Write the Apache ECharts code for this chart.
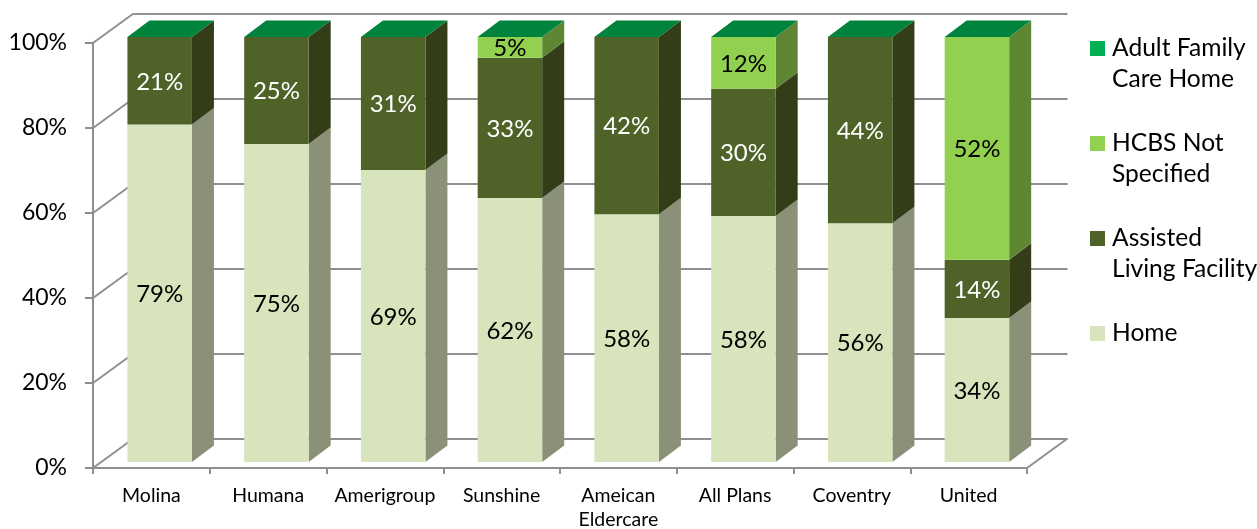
<!DOCTYPE html>
<html><head><meta charset="utf-8">
<style>html,body{margin:0;padding:0;background:#fff}#c{width:1257px;height:529px}</style>
<script src="https://cdn.jsdelivr.net/npm/echarts@6/dist/echarts.min.js"></script>
</head><body><div id="c"></div>
<script>
const categories = ['Molina','Humana','Amerigroup','Sunshine','Ameican\nEldercare','All Plans','Coventry','United'];
const home     = [79.4,74.8,68.7,62.1,58.3,57.9,56.2,33.9];
const assisted = [20.6,25.2,31.3,33.0,41.7,29.9,43.8,13.7];
const hcbs     = [0,0,0,4.9,0,12.2,0,52.4];
const family   = [0,0,0,0,0,0,0,0];
const yTicks   = [0,20,40,60,80,100];
const layerNames = ['Home','Assisted Living Facility','HCBS Not Specified','Adult Family Care Home'];
const legendLabels = {'Adult Family Care Home':'Adult Family\nCare Home','HCBS Not Specified':'HCBS Not\nSpecified','Assisted Living Facility':'Assisted\nLiving Facility','Home':'Home\n '};
const frontColors = ['#D7E4BC','#4F6228','#92D050','#00B050'];
const sideColors  = ['#8A9178','#333D18','#5E8633','#00843D'];
const labelColors = ['#000','#fff','#000','#000'];
const topColor = '#00843D';
const FONT = 'Lato, Carlito, Calibri, sans-serif';
const GRAY = '#8F8F8F';

const barW = 64.5, depthX = 22, depthY = 16.5, shiftX = 8.3, shiftY = 6;
const wallX = 40.5, wallY = 29.5;

const layers = [home, assisted, hcbs, family];
function rows(k){
  return categories.map((c,i)=>{
    let start = 0;
    for(let j=0;j<k;j++) start += layers[j][i];
    return [i,start,start+layers[k][i]];
  });
}
function renderBar(k){
  return function(params, api){
    const cat = api.value(0), a = api.value(1), b = api.value(2);
    const p0 = api.coord([cat,a]), p1 = api.coord([cat,b]);
    const x = p0[0] + shiftX - barW/2, y0 = p0[1]-shiftY, y1 = p1[1]-shiftY;
    const children = [];
    if(b>a){
      children.push({type:'polygon',shape:{points:[[x+barW,y0],[x+barW+depthX,y0-depthY],[x+barW+depthX,y1-depthY],[x+barW,y1]]},style:{fill:sideColors[k]}});
      children.push({type:'rect',shape:{x:x,y:y1,width:barW,height:y0-y1},style:{fill:frontColors[k]}});
      children.push({type:'text',x:x+barW/2,y:(y0+y1)/2+1,style:{text:Math.round(b-a)+'%',fill:labelColors[k],font:'24px '+FONT,align:'center',verticalAlign:'middle'},z2:10});
    }
    if(k===3){
      children.push({type:'polygon',shape:{points:[[x,y1],[x+depthX,y1-depthY],[x+barW+depthX,y1-depthY],[x+barW,y1]]},style:{fill:topColor}});
    }
    return {type:'group',children:children};
  };
}
const barSeries = layerNames.map((name,k)=>({
  type:'custom',name:name,xAxisIndex:0,yAxisIndex:0,
  itemStyle:{color:frontColors[k]},
  encode:{x:0,y:[1,2]},
  data:rows(k),
  renderItem:renderBar(k),
  z:3+k
}));
const wallSeries = {
  type:'custom',name:'walls',xAxisIndex:0,yAxisIndex:0,silent:true,
  encode:{y:0},
  data:yTicks.map(t=>[t]),
  renderItem:function(params,api){
    const cs = params.coordSys;
    const y = api.coord([0,api.value(0)])[1];
    const kids = [{type:'line',shape:{x1:cs.x,y1:y,x2:cs.x+wallX,y2:y-wallY},style:{stroke:GRAY,lineWidth:2}}];
    if(api.value(0)===0) kids.push({type:'line',shape:{x1:cs.x+cs.width,y1:y,x2:cs.x+cs.width+wallX,y2:y-wallY},style:{stroke:GRAY,lineWidth:2}});
    return {type:'group',children:kids};
  },
  z:1
};
const chart = echarts.init(document.getElementById('c'),null,{renderer:'canvas'});
chart.setOption({
  animation:false,
  backgroundColor:'#fff',
  textStyle:{fontFamily:FONT},
  grid:[
    {left:93,right:230,top:43,bottom:61,outerBoundsMode:'none'},
    {left:133.5,right:189.5,top:13.5,bottom:90.5,outerBoundsMode:'none'}
  ],
  xAxis:[
    {type:'category',gridIndex:0,data:categories,
     axisLine:{lineStyle:{color:GRAY,width:2}},
     axisTick:{show:true,length:6,lineStyle:{color:GRAY,width:2}},
     axisLabel:{interval:0,color:'#000',fontSize:19.5,fontFamily:FONT,margin:16,lineHeight:24,hideOverlap:false},
     splitLine:{show:false}},
    {type:'category',gridIndex:1,data:categories,show:false}
  ],
  yAxis:[
    {type:'value',gridIndex:0,min:0,max:100,interval:20,
     axisLine:{show:true,lineStyle:{color:GRAY,width:2}},
     axisTick:{show:true,length:8,lineStyle:{color:GRAY,width:2}},
     axisLabel:{formatter:'{value}%',color:'#000',fontSize:23,fontFamily:FONT,margin:26,padding:[5,0,0,0]},
     splitLine:{show:false}},
    {type:'value',gridIndex:1,min:0,max:100,interval:20,
     axisLine:{show:false},axisTick:{show:false},axisLabel:{show:false},
     splitLine:{show:true,lineStyle:{color:GRAY,width:2}}}
  ],
  legend:{
    orient:'vertical',left:1085,top:28,itemGap:33,itemWidth:15,itemHeight:62,
    icon:'path://M0,8H15V23H0Z M0,0L0,0 M15,62L15,62',
    itemStyle:{borderWidth:0},
    selectedMode:false,
    data:layerNames.slice().reverse(),
    formatter:n=>legendLabels[n],
    textStyle:{color:'#000',fontSize:24.6,fontFamily:FONT,lineHeight:31,padding:[0,0,0,2]}
  },
  series:[wallSeries].concat(barSeries)
});
</script></body></html>
